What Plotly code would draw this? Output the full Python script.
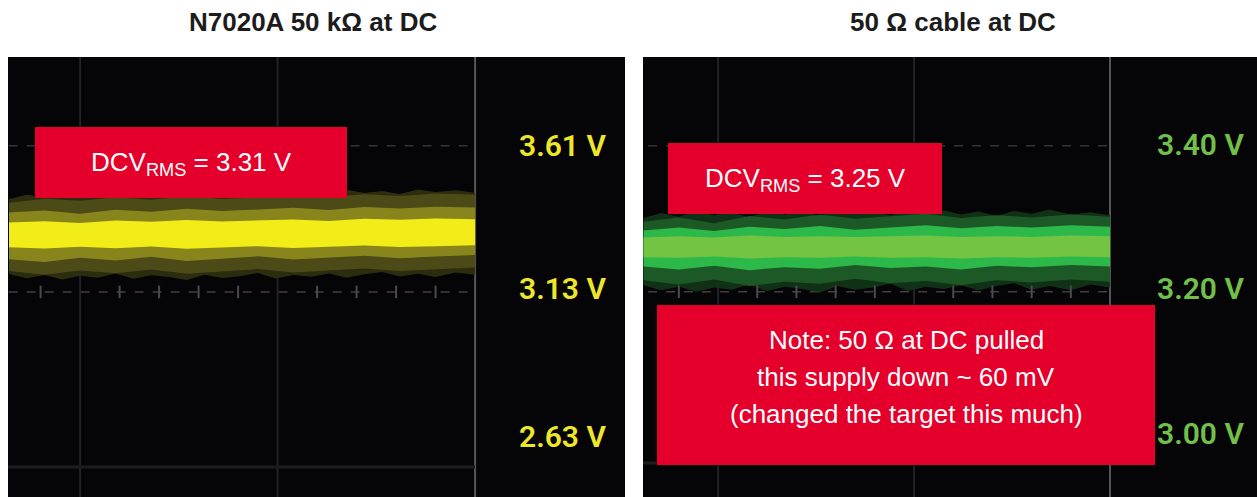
import plotly.graph_objects as go

W, H = 1257, 497

# ---------------- data ----------------
titles = ["N7020A 50 kΩ at DC", "50 Ω cable at DC"]

# scope readout labels (volts)
left_labels = [3.61, 3.13, 2.63]
right_labels = [3.40, 3.20, 3.00]

# horizontal graticule lines (volts)
left_grid_h = [3.61, 3.118, 2.528]
right_grid_h = [3.398, 3.196, 2.959]
grid_v = [1, 2, 3]          # vertical graticule (divisions)
minor_ticks = [0.8, 1.2, 1.4, 1.6, 1.8, 2.2, 2.4, 2.6, 2.8]

# trace envelopes (volts)
left_xf = [0.64, 0.73, 0.82, 0.91, 1.0, 1.09, 1.18, 1.27, 1.36, 1.45, 1.54, 1.63, 1.72, 1.81,
           1.9, 1.99, 2.08, 2.17, 2.26, 2.35, 2.44, 2.53, 2.62, 2.71, 2.8, 2.9, 3.0]
left_faint_top = [3.430, 3.446, 3.436, 3.452, 3.441, 3.449, 3.438, 3.455, 3.444, 3.451, 3.440, 3.458, 3.447, 3.453,
                  3.442, 3.460, 3.449, 3.456, 3.446, 3.462, 3.451, 3.458, 3.448, 3.463, 3.454, 3.460, 3.452]
left_faint_bot = [3.178, 3.164, 3.175, 3.160, 3.172, 3.166, 3.180, 3.162, 3.174, 3.168, 3.158, 3.176, 3.165, 3.171,
                  3.182, 3.163, 3.175, 3.169, 3.180, 3.166, 3.177, 3.185, 3.170, 3.179, 3.168, 3.183, 3.176]
left_x = [0.64, 0.82, 1.0, 1.18, 1.36, 1.54, 1.72, 1.9, 2.08, 2.26, 2.44, 2.62, 2.8, 3.0]
left_outer_top = [3.418, 3.432, 3.425, 3.437, 3.428, 3.440, 3.431, 3.436, 3.444, 3.438, 3.447, 3.441, 3.449, 3.445]
left_outer_bot = [3.188, 3.176, 3.190, 3.181, 3.193, 3.179, 3.186, 3.195, 3.183, 3.191, 3.197, 3.188, 3.194, 3.200]
left_mid_top = [3.385, 3.392, 3.381, 3.395, 3.388, 3.398, 3.390, 3.396, 3.401, 3.394, 3.404, 3.399, 3.405, 3.402]
left_mid_bot = [3.228, 3.219, 3.233, 3.224, 3.236, 3.222, 3.230, 3.238, 3.227, 3.234, 3.240, 3.231, 3.237, 3.242]
left_core_top = [3.352, 3.356, 3.350, 3.358, 3.354, 3.360, 3.355, 3.359, 3.362, 3.357, 3.364, 3.361, 3.365, 3.363]
left_core_bot = [3.268, 3.264, 3.270, 3.265, 3.271, 3.263, 3.268, 3.272, 3.266, 3.270, 3.274, 3.269, 3.272, 3.275]

right_xf = [0.62, 0.71, 0.8, 0.89, 0.98, 1.07, 1.16, 1.25, 1.34, 1.43, 1.52, 1.61, 1.7, 1.79,
            1.88, 1.97, 2.06, 2.15, 2.24, 2.33, 2.42, 2.51, 2.6, 2.69, 2.8, 2.9, 3.0]
right_faint_top = [3.298, 3.305, 3.300, 3.308, 3.302, 3.306, 3.299, 3.309, 3.303, 3.307, 3.301, 3.310, 3.304, 3.308,
                   3.302, 3.311, 3.305, 3.309, 3.303, 3.307, 3.301, 3.308, 3.304, 3.310, 3.303, 3.306, 3.302]
right_faint_bot = [3.205, 3.198, 3.203, 3.196, 3.202, 3.199, 3.206, 3.197, 3.203, 3.200, 3.195, 3.204, 3.199, 3.202,
                   3.207, 3.197, 3.203, 3.200, 3.205, 3.198, 3.204, 3.208, 3.199, 3.204, 3.198, 3.206, 3.202]
right_x = [0.62, 0.8, 0.98, 1.16, 1.34, 1.52, 1.7, 1.88, 2.06, 2.24, 2.42, 2.6, 2.8, 3.0]
right_outer_top = [3.293, 3.299, 3.291, 3.301, 3.296, 3.303, 3.297, 3.300, 3.304, 3.298, 3.302, 3.299, 3.303, 3.300]
right_outer_bot = [3.212, 3.206, 3.213, 3.204, 3.210, 3.207, 3.214, 3.208, 3.211, 3.205, 3.212, 3.209, 3.213, 3.210]
right_mid_top = [3.281, 3.285, 3.280, 3.286, 3.283, 3.287, 3.282, 3.285, 3.288, 3.284, 3.287, 3.285, 3.288, 3.286]
right_mid_bot = [3.231, 3.227, 3.232, 3.226, 3.230, 3.228, 3.233, 3.229, 3.231, 3.227, 3.232, 3.230, 3.233, 3.231]
right_core_top = [3.271, 3.273, 3.271, 3.274, 3.272, 3.273, 3.272, 3.273, 3.274, 3.272, 3.273, 3.272, 3.274, 3.273]
right_core_bot = [3.244, 3.243, 3.245, 3.242, 3.244, 3.243, 3.245, 3.243, 3.244, 3.242, 3.244, 3.243, 3.245, 3.244]

box_left = "DCV<sub>RMS</sub> = 3.31 V"
box_right = "DCV<sub>RMS</sub> = 3.25 V"
note_lines = ["Note: 50 Ω at DC pulled", "this supply down ~ 60 mV", "(changed the target this much)"]

# ---------------- helpers ----------------
def px(x):
    return x / W

def py(y):
    return 1 - y / H

fig = go.Figure()

def band(xs, top, bot, color, xa, ya):
    fig.add_trace(go.Scatter(
        x=xs + xs[::-1], y=top + bot[::-1], fill="toself", fillcolor=color,
        mode="lines", line=dict(width=0, color=color), hoverinfo="skip",
        xaxis=xa, yaxis=ya, showlegend=False))

# left trace
band(left_xf, left_faint_top, left_faint_bot, "rgba(46,46,16,0.95)", "x", "y")
band(left_x, left_outer_top, left_outer_bot, "rgba(78,76,24,0.95)", "x", "y")
band(left_x, left_mid_top, left_mid_bot, "rgba(140,136,30,0.95)", "x", "y")
band(left_x, left_core_top, left_core_bot, "#f2ec18", "x", "y")
# right trace
band(right_xf, right_faint_top, right_faint_bot, "rgba(18,52,24,0.95)", "x2", "y2")
band(right_x, right_outer_top, right_outer_bot, "rgba(30,92,40,0.95)", "x2", "y2")
band(right_x, right_mid_top, right_mid_bot, "#2db84a", "x2", "y2")
band(right_x, right_core_top, right_core_bot, "#74c443", "x2", "y2")

# minor ticks on center graticule line
fig.add_trace(go.Scatter(x=minor_ticks, y=[left_grid_h[1]] * len(minor_ticks), mode="markers",
                         marker=dict(symbol="line-ns", size=9, line=dict(width=2, color="#4a4a50")),
                         xaxis="x", yaxis="y", showlegend=False, hoverinfo="skip"))
fig.add_trace(go.Scatter(x=minor_ticks, y=[right_grid_h[1]] * len(minor_ticks), mode="markers",
                         marker=dict(symbol="line-ns", size=9, line=dict(width=2, color="#4a4a50")),
                         xaxis="x2", yaxis="y2", showlegend=False, hoverinfo="skip"))

shapes = []
for xa, ya, gh in (("x", "y", left_grid_h), ("x2", "y2", right_grid_h)):
    for gv in grid_v:
        shapes.append(dict(type="line", xref=xa, yref=ya + " domain", x0=gv, x1=gv, y0=0, y1=1,
                           line=dict(color="#55555a" if gv == 3 else "#222226", width=2),
                           layer="below"))
    shapes.append(dict(type="line", xref=xa, yref=ya, x0=0, x1=3, y0=gh[0], y1=gh[0],
                       line=dict(color="#3a3034", width=1.5, dash="dash"), layer="below"))
    shapes.append(dict(type="line", xref=xa, yref=ya, x0=0, x1=3, y0=gh[1], y1=gh[1],
                       line=dict(color="#4a3a42", width=1.5, dash="dash"), layer="below"))
    shapes.append(dict(type="line", xref=xa, yref=ya, x0=0, x1=3, y0=gh[2], y1=gh[2],
                       line=dict(color="#1e1c20", width=3), layer="below"))

RED = "#e4002b"
# red boxes
shapes.append(dict(type="rect", xref="paper", yref="paper", x0=px(35), x1=px(347), y0=py(198), y1=py(127),
                   fillcolor=RED, line=dict(width=0), layer="above"))
shapes.append(dict(type="rect", xref="paper", yref="paper", x0=px(668), x1=px(942), y0=py(214), y1=py(143),
                   fillcolor=RED, line=dict(width=0), layer="above"))
shapes.append(dict(type="rect", xref="paper", yref="paper", x0=px(657), x1=px(1155), y0=py(465), y1=py(305),
                   fillcolor=RED, line=dict(width=0), layer="above"))

C = dict(xanchor="center", yanchor="middle", showarrow=False, xref="paper", yref="paper")
ann = []
ann.append(dict(text="<b>%s</b>" % titles[0], x=px(313), y=py(22),
                font=dict(family="Liberation Sans", size=26, color="#1c1c1c"), **C))
ann.append(dict(text="<b>%s</b>" % titles[1], x=px(953), y=py(22),
                font=dict(family="Liberation Sans", size=26, color="#1c1c1c"), **C))
ann.append(dict(text=box_left, x=px(191), y=py(163),
                font=dict(family="Liberation Sans", size=26, color="white"), **C))
ann.append(dict(text=box_right, x=px(805), y=py(179),
                font=dict(family="Liberation Sans", size=26, color="white"), **C))
for i, line in enumerate(note_lines):
    ann.append(dict(text=line, x=px(906), y=py(340 + 37 * i),
                    font=dict(family="Liberation Sans", size=26, color="white"), **C))

for v in left_labels:
    ann.append(dict(text="%.2f V" % v, x=3.44, y=v, xref="x", yref="y", showarrow=False,
                    xanchor="center", yanchor="middle",
                    font=dict(family="Roboto", size=30, color="#eee62a", weight=600)))
for v in right_labels:
    ann.append(dict(text="%.2f V" % v, x=3.46, y=v, xref="x2", yref="y2", showarrow=False,
                    xanchor="center", yanchor="middle",
                    font=dict(family="Roboto", size=30, color="#72c04a", weight=600)))

ax_common = dict(showgrid=False, zeroline=False, showticklabels=False, ticks="", showline=False, fixedrange=True)

fig.update_layout(
    width=W, height=H, margin=dict(l=0, r=0, t=0, b=0),
    paper_bgcolor="white", plot_bgcolor="#050507",
    xaxis=dict(domain=[px(8), px(625)], range=[0.635, 3.759], anchor="y", **ax_common),
    yaxis=dict(domain=[0, py(57)], range=[2.4273, 3.909], anchor="x", **ax_common),
    xaxis2=dict(domain=[px(643), 1.0], range=[0.617, 3.750], anchor="y2", **ax_common),
    yaxis2=dict(domain=[0, py(57)], range=[2.912, 3.521], anchor="x2", **ax_common),
    shapes=shapes, annotations=ann, showlegend=False,
)

fig.write_html("out.html", config={"displayModeBar": False},
               post_script="document.body.style.margin='0';document.body.style.overflow='hidden';")
